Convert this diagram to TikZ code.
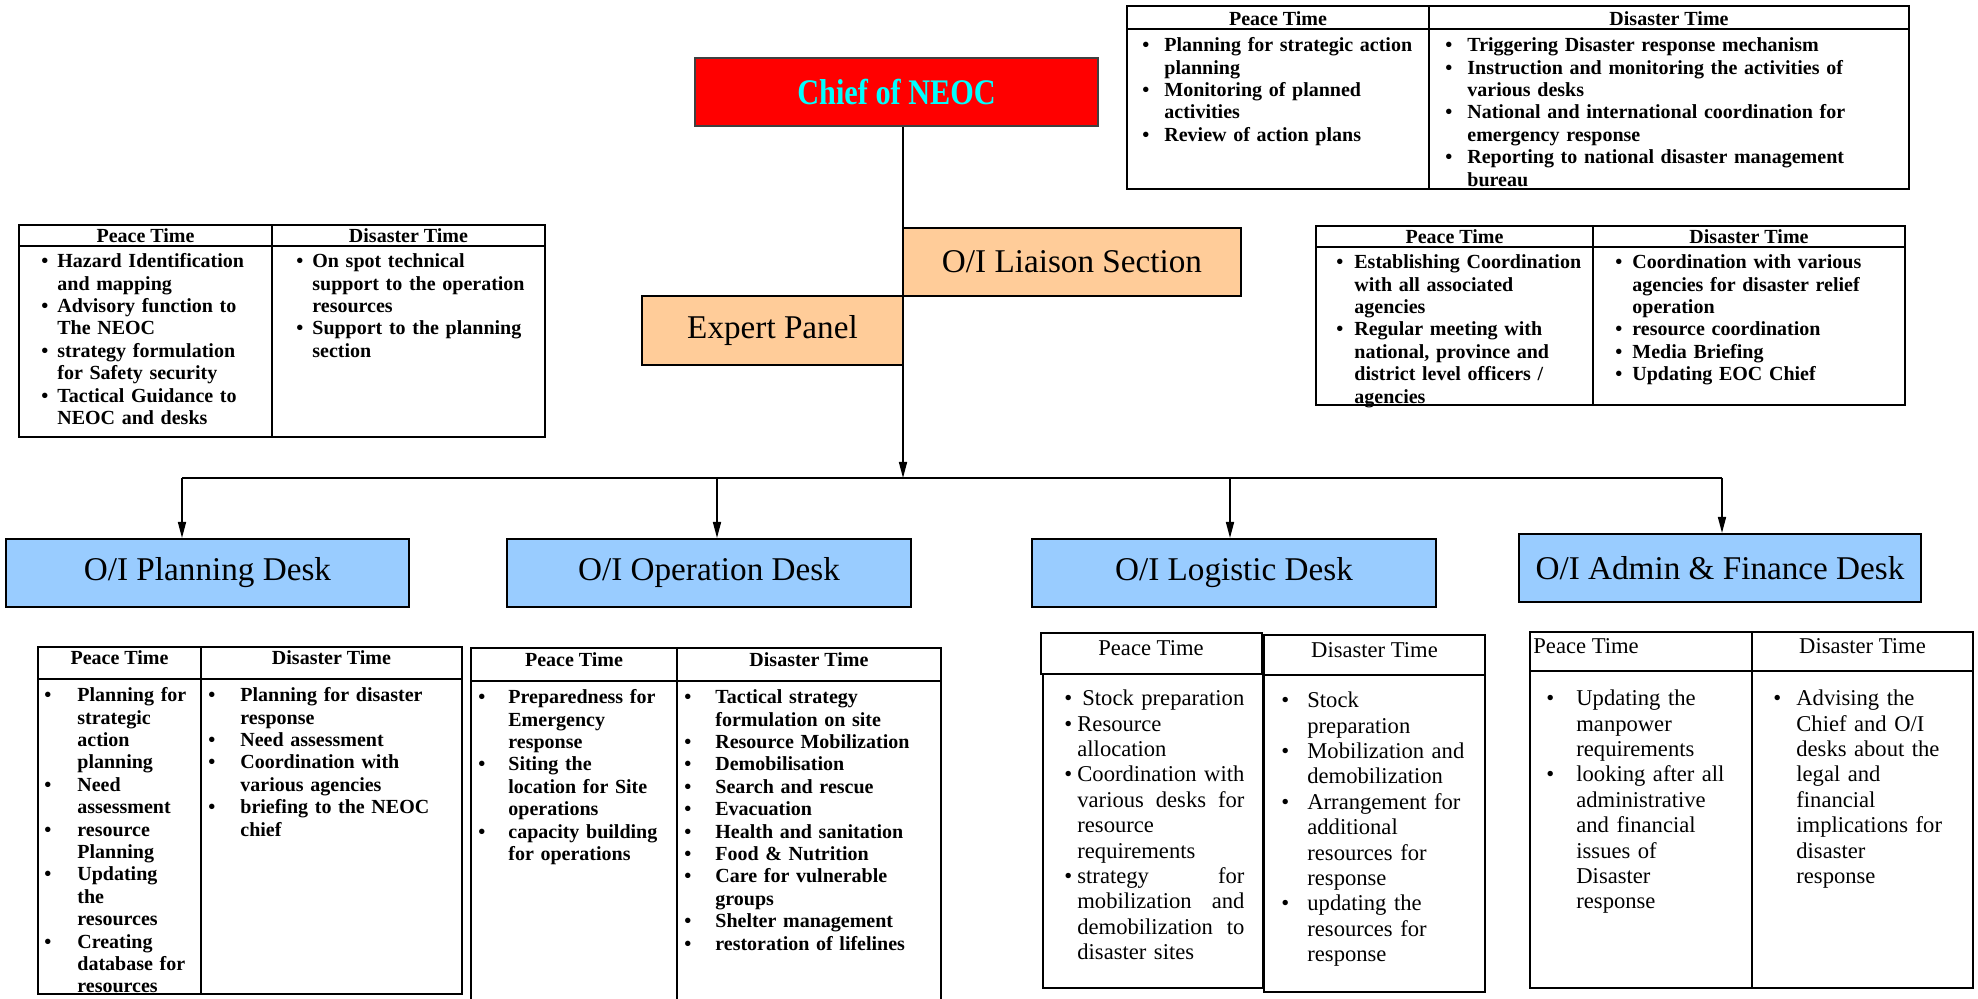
\documentclass[tikz,border=0pt]{standalone}
\usepackage{fontspec}
\setmainfont{Liberation Serif}
\usetikzlibrary{arrows.meta,fit}
\definecolor{chiefcyan}{HTML}{00FFFF}
\definecolor{peach}{HTML}{FFCC99}
\definecolor{deskblue}{HTML}{99CCFF}
\newlength{\bhang}
\newcommand{\bi}[1]{\par\noindent\hangindent=\bhang\hangafter=1\makebox[\bhang][l]{\textbullet}#1}
\newcommand{\NL}{\newline}
\begin{document}
\begin{tikzpicture}[x=0.5pt,y=-0.5pt,
  cellbox/.style={draw=black, line width=1pt, inner sep=0pt},
  hb/.style={inner sep=0pt, font=\fontsize{10}{12}\selectfont\bfseries},
  hr/.style={inner sep=0pt, font=\fontsize{11.3}{13}\selectfont},
  btxt/.style={anchor=north west, inner sep=0pt, font=\fontsize{10}{11.2}\selectfont\bfseries},
  rtxt/.style={anchor=north west, inner sep=0pt, font=\fontsize{11.3}{12.7}\selectfont},
  lbl/.style={inner sep=0pt, font=\fontsize{16.6}{20}\selectfont},
  arr/.style={line width=0.8pt, -{Triangle[length=8pt,width=4pt]}},
  conn/.style={line width=1.1pt},
]
\useasboundingbox (0,0) rectangle (1978,999);

% ---------- main boxes ----------
\node[fit={(695,58)(1098,126)}, cellbox, draw=black!75, fill=red] (chief) {};
\node[inner sep=0pt, font=\fontsize{18}{20}\selectfont\bfseries, text=chiefcyan] (chieft) at (chief.center) {\scalebox{0.84}[1]{Chief of NEOC}};
\node[fit={(903,228)(1241,296)}, cellbox, fill=peach] (liaison) {};
\node[lbl] (liaisont) at (liaison.center) {O/I Liaison Section};
\node[fit={(642,296)(903,365)}, cellbox, fill=peach] (expert) {};
\node[lbl] (expertt) at (expert.center) {Expert Panel};

\node[fit={(6,539)(409,607)}, cellbox, fill=deskblue] (plan) {};
\node[lbl] (plant) at (plan.center) {O/I Planning Desk};
\node[fit={(507,539)(911,607)}, cellbox, fill=deskblue] (oper) {};
\node[lbl] (opert) at (oper.center) {O/I Operation Desk};
\node[fit={(1032,539)(1436,607)}, cellbox, fill=deskblue] (logi) {};
\node[lbl] (logit) at (logi.center) {O/I Logistic Desk};
\node[fit={(1519,534)(1921,602)}, cellbox, fill=deskblue] (admin) {};
\node[lbl] (admint) at (admin.center) {O/I Admin \& Finance Desk};

% ---------- connectors ----------
\coordinate (jn) at (903,478);
\coordinate (bl) at (182,478);
\coordinate (bo) at (717,478);
\coordinate (bg) at (1230,478);
\coordinate (br) at (1722,478);
\draw[conn] (bl) -- (br);
\draw[arr] (chief.south -| jn) -- (jn);
\draw[arr] (bl) -- (bl |- plan.north);
\draw[arr] (bo) -- (bo |- oper.north);
\draw[arr] (bg) -- (bg |- logi.north);
\draw[arr] (br) -- (br |- admin.north);

% ---------- top-right table (Chief) ----------
\node[fit={(1127,6)(1429,29)}, cellbox] (trph) {};
\node[fit={(1429,6)(1909,29)}, cellbox] (trdh) {};
\node[fit={(1127,29)(1429,189)}, cellbox] (trpb) {};
\node[fit={(1429,29)(1909,189)}, cellbox] (trdb) {};
\node[hb] (trpht) at (1278,19) {Peace Time};
\node[hb] (trdht) at (1669,19) {Disaster Time};
\node[btxt, text width=142.5pt] (trpt) at (1142,29) {\setlength\bhang{11pt}\raggedright
\bi{Planning for strategic action\NL planning}
\bi{Monitoring of planned\NL activities}
\bi{Review of action plans}\par};
\node[btxt, text width=231pt] (trdt) at (1445,29) {\setlength\bhang{11pt}\raggedright
\bi{Triggering Disaster response mechanism}
\bi{Instruction and monitoring the activities of\NL various desks}
\bi{National and international coordination for\NL emergency response}
\bi{Reporting to national disaster management\NL bureau}\par};

% ---------- expert table ----------
\node[fit={(19,225)(272,246)}, cellbox] (exph) {};
\node[fit={(272,225)(545,246)}, cellbox] (exdh) {};
\node[fit={(19,246)(272,437)}, cellbox] (expb) {};
\node[fit={(272,246)(545,437)}, cellbox] (exdb) {};
\node[hb] (expht) at (145.5,236) {Peace Time};
\node[hb] (exdht) at (408.5,236) {Disaster Time};
\node[btxt, text width=114.5pt] (expt) at (41,245) {\setlength\bhang{8pt}\raggedright
\bi{Hazard Identification\NL and mapping}
\bi{Advisory function to\NL The NEOC}
\bi{strategy formulation\NL for Safety security}
\bi{Tactical Guidance to\NL NEOC and desks}\par};
\node[btxt, text width=123.5pt] (exdt) at (296,245) {\setlength\bhang{8pt}\raggedright
\bi{On spot technical\NL support to the operation\NL resources}
\bi{Support to the planning\NL section}\par};

% ---------- liaison table ----------
\node[fit={(1316,226)(1593,247)}, cellbox] (liph) {};
\node[fit={(1593,226)(1905,247)}, cellbox] (lidh) {};
\node[fit={(1316,247)(1593,405)}, cellbox] (lipb) {};
\node[fit={(1593,247)(1905,405)}, cellbox] (lidb) {};
\node[hb] (lipht) at (1454.5,237) {Peace Time};
\node[hb] (lidht) at (1749,237) {Disaster Time};
\node[btxt, text width=127.5pt] (lipt) at (1336,246) {\setlength\bhang{9pt}\raggedright
\bi{Establishing Coordination\NL with all associated\NL agencies}
\bi{Regular meeting with\NL national, province and\NL district level officers /\NL agencies}\par};
\node[btxt, text width=144pt] (lidt) at (1615,246) {\setlength\bhang{8.5pt}\raggedright
\bi{Coordination with various\NL agencies for disaster relief\NL operation}
\bi{resource coordination}
\bi{Media Briefing}
\bi{Updating EOC Chief}\par};

% ---------- planning table ----------
\node[fit={(38,647)(201,679)}, cellbox] (plph) {};
\node[fit={(201,647)(462,679)}, cellbox] (pldh) {};
\node[fit={(38,679)(201,994)}, cellbox] (plpb) {};
\node[fit={(201,679)(462,994)}, cellbox] (pldb) {};
\node[hb] (plpht) at (119.5,658) {Peace Time};
\node[hb] (pldht) at (331.5,658) {Disaster Time};
\node[btxt, text width=77.5pt] (plpt) at (44,679) {\setlength\bhang{16.5pt}\raggedright
\bi{Planning for\NL strategic\NL action\NL planning}
\bi{Need\NL assessment}
\bi{resource\NL Planning}
\bi{Updating\NL the\NL resources}
\bi{Creating\NL database for\NL resources}\par};
\node[btxt, text width=126pt] (pldt) at (208,679) {\setlength\bhang{16pt}\raggedright
\bi{Planning for disaster\NL response}
\bi{Need assessment}
\bi{Coordination with\NL various agencies}
\bi{briefing to the NEOC\NL chief}\par};

% ---------- operation table ----------
\node[fit={(471,648)(677,681)}, cellbox] (opph) {};
\node[fit={(677,648)(941,681)}, cellbox] (opdh) {};
\node[fit={(471,681)(677,1010)}, cellbox] (oppb) {};
\node[fit={(677,681)(941,1010)}, cellbox] (opdb) {};
\node[hb] (oppht) at (574,660) {Peace Time};
\node[hb] (opdht) at (809,660) {Disaster Time};
\node[btxt, text width=98.5pt] (oppt) at (478,681) {\setlength\bhang{15pt}\raggedright
\bi{Preparedness for\NL Emergency\NL response}
\bi{Siting the\NL location for Site\NL operations}
\bi{capacity building\NL for operations}\par};
\node[btxt, text width=127.5pt] (opdt) at (684,681) {\setlength\bhang{15.5pt}\raggedright
\bi{Tactical strategy\NL formulation on site}
\bi{Resource Mobilization}
\bi{Demobilisation}
\bi{Search and rescue}
\bi{Evacuation}
\bi{Health and sanitation}
\bi{Food \& Nutrition}
\bi{Care for vulnerable\NL groups}
\bi{Shelter management}
\bi{restoration of lifelines}\par};

% ---------- logistic table ----------
\node[fit={(1041,633)(1262,674)}, cellbox] (loph) {};
\node[fit={(1264,635)(1485,675)}, cellbox] (lodh) {};
\node[fit={(1043,674)(1263,988)}, cellbox] (lopb) {};
\node[fit={(1264,675)(1485,992)}, cellbox] (lodb) {};
\node[hr] (lopht) at (1151,648) {Peace Time};
\node[hr] (lodht) at (1374.5,650) {Disaster Time};
\node[rtxt, text width=90pt] (lopt) at (1064,680) {\setlength\bhang{6.5pt}
\bi{\hspace{2.5pt}Stock preparation}
\bi{Resource\NL allocation}
\bi{Coordination\hfill with\NL various\hfill desks\hfill for\NL resource\NL requirements}
\bi{strategy\hfill for\NL mobilization\hfill and\NL demobilization\hfill to\NL disaster sites}\par};
\node[rtxt, text width=100.5pt] (lodt) at (1281,682) {\setlength\bhang{13pt}\raggedright
\bi{Stock\NL preparation}
\bi{Mobilization and\NL demobilization}
\bi{Arrangement for\NL additional\NL resources for\NL response}
\bi{updating the\NL resources for\NL response}\par};

% ---------- admin table ----------
\node[fit={(1530,632)(1752,671)}, cellbox] (adph) {};
\node[fit={(1752,632)(1973,671)}, cellbox] (addh) {};
\node[fit={(1530,671)(1752,988)}, cellbox] (adpb) {};
\node[fit={(1752,671)(1973,988)}, cellbox] (addb) {};
\node[hr, anchor=west] (adpht) at (1533,646) {Peace Time};
\node[hr] (addht) at (1862.5,646) {Disaster Time};
\node[rtxt, text width=102pt] (adpt) at (1546,680) {\setlength\bhang{15pt}\raggedright
\bi{Updating the\NL manpower\NL requirements}
\bi{looking after all\NL administrative\NL and financial\NL issues of\NL Disaster\NL response}\par};
\node[rtxt, text width=99pt] (addt) at (1773,680) {\setlength\bhang{11.5pt}\raggedright
\bi{Advising the\NL Chief and O/I\NL desks about the\NL legal and\NL financial\NL implications for\NL disaster\NL response}\par};
\end{tikzpicture}
\end{document}
